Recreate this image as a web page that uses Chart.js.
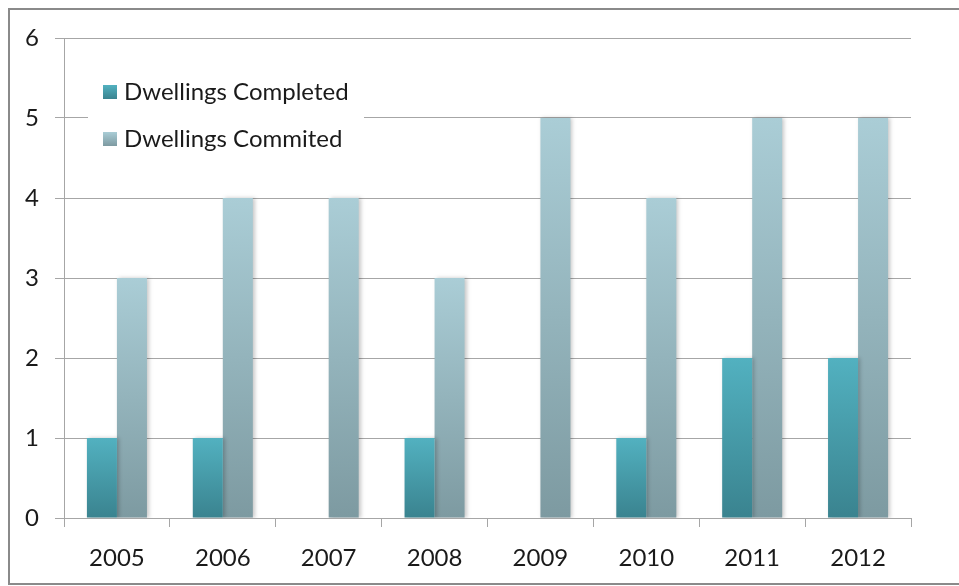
<!DOCTYPE html>
<html>
<head>
<meta charset="utf-8">
<script src="https://cdn.jsdelivr.net/npm/chart.js@4/dist/chart.umd.min.js"></script>
<style>
  html, body { margin: 0; padding: 0; background: #fff; }
  #wrap { width: 959px; height: 586px; position: relative; }
</style>
</head>
<body>
<div id="wrap"><canvas id="c" width="959" height="586"></canvas></div>
<script>
const years = ['2005', '2006', '2007', '2008', '2009', '2010', '2011', '2012'];
const completed = [1, 1, 0, 1, 0, 1, 2, 2];
const committed = [3, 4, 4, 3, 5, 4, 5, 5];
const yTicks = [0, 1, 2, 3, 4, 5, 6];

const FONT = 'Lato, "Open Sans", sans-serif';
const grads = {
  completed: ['#52B1C0', '#3A838F'],
  committed: ['#AACDD6', '#7D9AA1']
};

function barGradient(key) {
  return function (ctx) {
    const chart = ctx.chart;
    const y = chart.scales.y;
    if (!y || ctx.dataIndex === undefined) return grads[key][0];
    const v = ctx.raw || 0;
    const top = y.getPixelForValue(v);
    const bot = y.getPixelForValue(0);
    if (!isFinite(top) || !isFinite(bot) || top === bot) return grads[key][0];
    const g = chart.ctx.createLinearGradient(0, top, 0, bot);
    g.addColorStop(0, grads[key][0]);
    g.addColorStop(1, grads[key][1]);
    return g;
  };
}

const framePlugin = {
  id: 'frame',
  afterDraw(chart) {
    const c = chart.ctx;
    c.save();
    c.strokeStyle = '#8a8a8a';
    c.lineWidth = 2;
    c.strokeRect(9, 9, 990, 575);
    c.restore();
  }
};

const shadowPlugin = {
  id: 'shadow',
  beforeDatasetsDraw(chart) {
    const c = chart.ctx;
    c.save();
    c.shadowColor = 'rgba(0,0,0,0.22)';
    c.shadowBlur = 4;
    c.shadowOffsetX = 2;
    c.shadowOffsetY = 0;
  },
  afterDatasetsDraw(chart) {
    chart.ctx.restore();
  }
};

const legendPlugin = {
  id: 'boxLegend',
  beforeDatasetsDraw(chart) {
    const c = chart.ctx;
    c.save();
    c.fillStyle = '#ffffff';
    c.fillRect(88, 66, 276, 98);
    const rows = [92, 139];
    chart.data.datasets.forEach((ds, i) => {
      const key = ds.gradKey;
      const y = rows[i];
      const g = c.createLinearGradient(0, y - 7, 0, y + 7);
      g.addColorStop(0, grads[key][0]);
      g.addColorStop(1, grads[key][1]);
      c.fillStyle = g;
      c.fillRect(103, y - 7, 14, 14);
      c.fillStyle = '#1a1a1a';
      c.font = '24px ' + FONT;
      c.textBaseline = 'middle';
      c.textAlign = 'left';
      c.fillText(ds.label, 124, y);
    });
    c.restore();
  }
};

new Chart(document.getElementById('c'), {
  type: 'bar',
  data: {
    labels: years,
    datasets: [
      { label: 'Dwellings Completed', data: completed, gradKey: 'completed',
        backgroundColor: barGradient('completed'), borderWidth: 0 },
      { label: 'Dwellings Commited', data: committed, gradKey: 'committed',
        backgroundColor: barGradient('committed'), borderWidth: 0 }
    ]
  },
  options: {
    responsive: false,
    animation: false,
    devicePixelRatio: 1,
    layout: { padding: { left: 0, right: 48, top: 38, bottom: 0 } },
    datasets: { bar: { categoryPercentage: 0.567, barPercentage: 1 } },
    plugins: {
      legend: { display: false },
      tooltip: { enabled: false }
    },
    scales: {
      x: {
        afterFit(s) { s.height = 68; },
        grid: { offset: true, drawOnChartArea: false, drawTicks: true, tickLength: 9, color: '#a6a6a6' },
        border: { display: false },
        ticks: { color: '#1a1a1a', font: { family: FONT, size: 24 }, padding: 17, maxRotation: 0 }
      },
      y: {
        min: 0, max: 6,
        afterFit(s) { s.width = 64; },
        afterBuildTicks(s) { s.ticks = yTicks.map(v => ({ value: v })); },
        grid: { color: '#a6a6a6', tickLength: 9, drawTicks: true },
        border: { display: true, color: '#a6a6a6' },
        ticks: { color: '#1a1a1a', font: { family: FONT, size: 24 }, padding: 16 }
      }
    }
  },
  plugins: [legendPlugin, shadowPlugin, framePlugin]
});
</script>
</body>
</html>
